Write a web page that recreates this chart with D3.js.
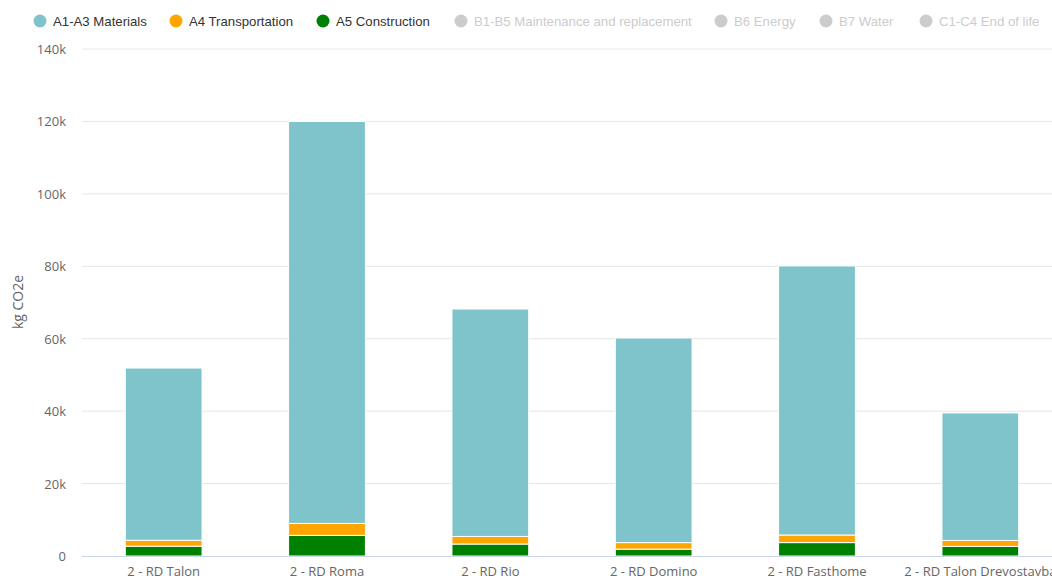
<!DOCTYPE html>
<html>
<head>
<meta charset="utf-8">
<script src="https://cdn.jsdelivr.net/npm/d3@7"></script>
<style>
  body { margin: 0; overflow: hidden; background: #fff; }
</style>
</head>
<body>
<div id="chart"></div>
<script>
var categories = ["2 - RD Talon", "2 - RD Roma", "2 - RD Rio", "2 - RD Domino", "2 - RD Fasthome", "2 - RD Talon Drevostavba"];
var construction = [2700, 5700, 3300, 1900, 3700, 2650];
var transport = [1650, 3300, 2100, 1800, 2100, 1650];
var materials = [47550, 111000, 62800, 56500, 74300, 35200];
var yTicks = [0, 20000, 40000, 60000, 80000, 100000, 120000, 140000];

var legendNames = ["A1-A3 Materials", "A4 Transportation", "A5 Construction", "B1-B5 Maintenance and replacement", "B6 Energy", "B7 Water", "C1-C4 End of life"];
var legendColors = ["#7fc3cb", "#ffa500", "#008000", "#cccccc", "#cccccc", "#cccccc", "#cccccc"];
var legendActive = [true, true, true, false, false, false, false];

var W = 1052, H = 580;
var margin = {top: 49, left: 82, bottom: 24};
var plotW = 980, plotH = H - margin.top - margin.bottom;

var svg = d3.select("#chart").append("svg")
    .attr("width", W)
    .attr("height", H)
    .style("font-family", "'Open Sans', sans-serif");

var g = svg.append("g").attr("transform", "translate(" + margin.left + "," + margin.top + ")");

var x = d3.scaleBand().domain(categories).range([0, plotW]).paddingInner(0.53).paddingOuter(0.265);
var y = d3.scaleLinear().domain([0, 140000]).range([plotH, 0]);

// gridlines
g.selectAll(".grid").data(yTicks.slice(1)).enter().append("line")
    .attr("x1", 0).attr("x2", plotW)
    .attr("y1", function(d) { return y(d); }).attr("y2", function(d) { return y(d); })
    .style("stroke", "#e6e6e6").style("stroke-width", 1);

// y labels
g.selectAll(".ylab").data(yTicks).enter().append("text")
    .attr("x", -16)
    .attr("y", function(d) { return y(d) + 5; })
    .style("text-anchor", "end")
    .style("font-size", "13px")
    .style("fill", "#666")
    .text(function(d) { return d == 0 ? "0" : (d / 1000) + "k"; });

// stacked bars
var rows = categories.map(function(c, i) {
    return {cat: c, construction: construction[i], transport: transport[i], materials: materials[i]};
});
var keys = ["construction", "transport", "materials"];
var keyColor = {construction: "#008000", transport: "#ffa500", materials: "#7fc3cb"};
var series = d3.stack().keys(keys)(rows);

g.selectAll(".series").data(series).enter().append("g")
    .style("fill", function(d) { return keyColor[d.key]; })
    .selectAll("rect").data(function(d) { return d; }).enter().append("rect")
    .attr("x", function(d) { return x(d.data.cat); })
    .attr("width", x.bandwidth())
    .attr("y", function(d) { return y(d[1]); })
    .attr("height", function(d) { return y(d[0]) - y(d[1]); })
    .style("stroke", "#fff")
    .style("stroke-width", 1);

// baseline
g.append("line")
    .attr("x1", 0).attr("x2", plotW)
    .attr("y1", plotH + 0.5).attr("y2", plotH + 0.5)
    .style("stroke", "#ccd6eb");

// x labels
g.selectAll(".xlab").data(categories).enter().append("text")
    .attr("x", function(d) { return x(d) + x.bandwidth() / 2; })
    .attr("y", plotH + 20)
    .style("text-anchor", "middle")
    .style("font-size", "13px")
    .style("fill", "#666")
    .text(function(d) { return d; });

// y title
svg.append("text")
    .attr("transform", "translate(23," + 302 + ") rotate(-90)")
    .style("text-anchor", "middle")
    .style("font-size", "14px")
    .style("fill", "#666")
    .text("kg CO2e");

// legend
var legendX = [40, 176, 323, 461, 721, 826, 926];
var leg = svg.selectAll(".legend").data(legendNames).enter().append("g")
    .attr("transform", function(d, i) { return "translate(" + legendX[i] + ",21)"; });
leg.append("circle").attr("r", 6.5)
    .style("fill", function(d, i) { return legendColors[i]; });
leg.append("text")
    .attr("x", 13).attr("y", 5)
    .style("font-family", "'Liberation Sans', Arial, sans-serif")
    .style("font-size", "13.2px")
    .style("fill", function(d, i) { return legendActive[i] ? "#333" : "#cccccc"; })
    .text(function(d) { return d; });
</script>
</body>
</html>
